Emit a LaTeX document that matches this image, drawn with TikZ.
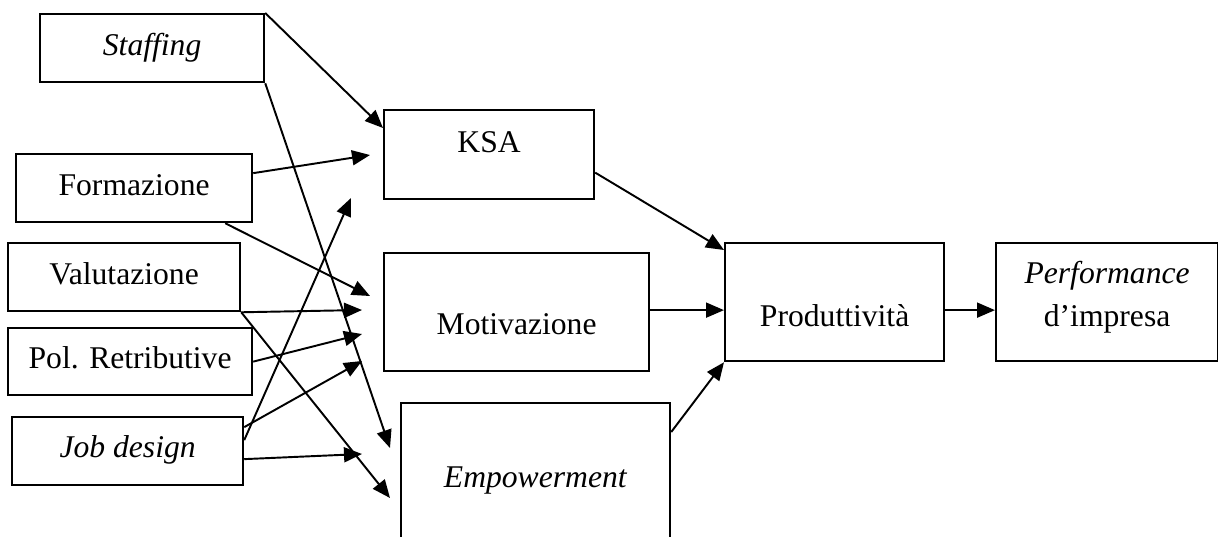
\documentclass[tikz,border=0pt]{standalone}
\usepackage{fontspec}
\setmainfont{Liberation Serif}
\usetikzlibrary{arrows.meta,calc}

\tikzset{
  box/.style={draw, line width=1.3pt, anchor=north west, inner sep=0pt},
  oneline/.style={text height=12.6pt, text depth=4.5pt},
  conn/.style={line width=1.1pt, -{Triangle[length=0.36cm,width=0.3cm]}},
}

\begin{document}
\begin{tikzpicture}[x=0.02cm, y=-0.02cm, font=\fontsize{18pt}{24.5pt}\selectfont]
  \clip (0,0) rectangle (1218,537);

  \node[box, oneline, minimum width=4.48cm, minimum height=1.36cm] (staffing) at (39,13) {\textit{Staffing}};
  \node[box, oneline, minimum width=4.72cm, minimum height=1.36cm] (formazione) at (15,153) {Formazione};
  \node[box, oneline, minimum width=4.64cm, minimum height=1.36cm] (valutazione) at (7,242) {Valutazione};
  \node[box, oneline, minimum width=4.88cm, minimum height=1.34cm] (polretr) at (7,327) {Pol. Retributive};
  \node[box, oneline, text height=11.5pt, minimum width=4.62cm, minimum height=1.36cm] (jobdesign) at (11,416) {\textit{Job design}};

  \node[box, oneline, text depth=15.4pt, minimum width=4.2cm, minimum height=1.78cm] (ksa) at (383,109) {KSA};
  \node[box, oneline, text height=29.5pt, minimum width=5.3cm, minimum height=2.36cm] (motivazione) at (383,252) {Motivazione};
  \node[box, oneline, minimum width=5.38cm, minimum height=3.08cm] (empowerment) at (400,402) {\textit{Empowerment}};

  \node[box, oneline, text height=31.8pt, minimum width=4.38cm, minimum height=2.36cm] (produttivita) at (724,242) {Produttività};
  \node[box, align=center, minimum width=4.44cm, minimum height=2.36cm] (performance) at (995,242) {\textit{Performance}\\d’impresa\rule[-9.6pt]{0pt}{0pt}};

  \coordinate (fo1) at ($(formazione.east)+(0,-15)$);
  \coordinate (fo2) at ($(formazione.south east)+(-28,0)$);
  \coordinate (jo1) at ($(jobdesign.east)+(0,-24)$);
  \coordinate (jo2) at ($(jobdesign.east)+(0,-11)$);
  \coordinate (jo3) at ($(jobdesign.east)+(0,8)$);
  \coordinate (ks) at ($(ksa.east)+(0,18)$);
  \coordinate (em) at ($(empowerment.north east)+(0,30)$);
  \coordinate (pr) at ($(produttivita.east)+(0,8)$);

  \coordinate (sfk) at (383,128);
  \coordinate (sfe) at (390,448);
  \coordinate (fok) at (370,155);
  \coordinate (fom) at (370,296);
  \coordinate (vam) at (362,310);
  \coordinate (vae) at (390,498);
  \coordinate (pom) at (362,334);
  \coordinate (jom) at (362,361);
  \coordinate (jok) at (351,198);
  \coordinate (joe) at (362,454);
  \coordinate (ksp) at (724,250);
  \coordinate (mop) at ($(motivazione.east -| produttivita.west)+(0,-2)$);
  \coordinate (pep) at (pr -| performance.west);

  \foreach \a/\b in {staffing.north east/sfk, staffing.south east/sfe, fo1/fok, fo2/fom,
      valutazione.south east/vam, valutazione.south east/vae, polretr.east/pom,
      jo1/jom, jo2/jok, jo3/joe, ks/ksp, em/produttivita.south west, pr/pep}
    \draw[conn] (\a) -- (\b);
  \draw[conn] ($(motivazione.east)+(0,-2)$) -- (mop);
\end{tikzpicture}
\end{document}
